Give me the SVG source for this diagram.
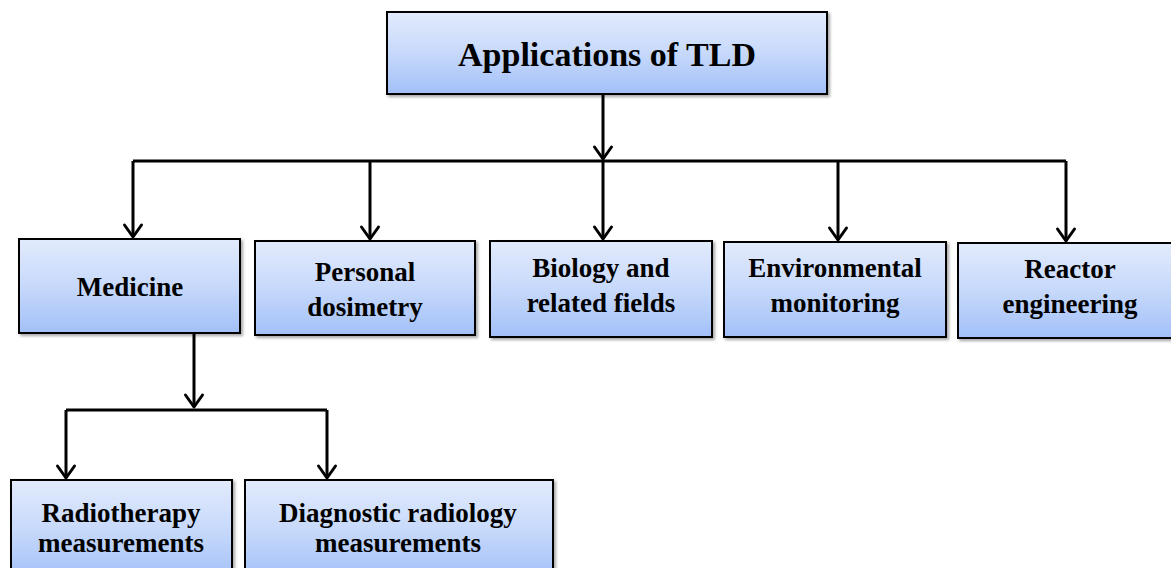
<svg xmlns="http://www.w3.org/2000/svg" width="1171" height="568" viewBox="0 0 1171 568">
<defs>
<linearGradient id="g" x1="0" y1="0" x2="0" y2="1">
<stop offset="0" stop-color="#e2ebfc"/>
<stop offset="0.5" stop-color="#c7d9fb"/>
<stop offset="1" stop-color="#a2c0f8"/>
</linearGradient>
<filter id="sh" x="-5%" y="-5%" width="115%" height="125%">
<feDropShadow dx="2" dy="2" stdDeviation="1.5" flood-color="#000" flood-opacity="0.35"/>
</filter>
<marker id="ar" markerUnits="userSpaceOnUse" markerWidth="24" markerHeight="24" refX="16" refY="12" orient="auto" viewBox="0 0 24 24">
<path d="M4,3.5 L16,12 L4,20.5" fill="none" stroke="#000" stroke-width="3" stroke-linecap="round" stroke-linejoin="round"/>
</marker>
</defs>
<style>
.box{fill:url(#g);stroke:#000;stroke-width:2;filter:url(#sh)}
.t{font-family:"Liberation Serif","Times New Roman",serif;font-weight:bold;text-anchor:middle;fill:#000;font-size:27px}
.title{font-size:34px}
.c{fill:none;stroke:#000;stroke-width:3}
</style>
<g id="connectors">
<path class="c" d="M603,94 V159" marker-end="url(#ar)"/>
<path class="c" d="M133,161 H1066"/>
<path class="c" d="M133,161 V237" marker-end="url(#ar)"/>
<path class="c" d="M370,161 V239" marker-end="url(#ar)"/>
<path class="c" d="M603,161 V239" marker-end="url(#ar)"/>
<path class="c" d="M838,161 V240" marker-end="url(#ar)"/>
<path class="c" d="M1066,161 V241" marker-end="url(#ar)"/>
<path class="c" d="M194,333 V407" marker-end="url(#ar)"/>
<path class="c" d="M66,410 H327"/>
<path class="c" d="M66,410 V478" marker-end="url(#ar)"/>
<path class="c" d="M327,410 V478" marker-end="url(#ar)"/>
</g>
<g id="root">
<rect class="box" x="387" y="12" width="440" height="82"/>
<text class="t title" x="607" y="66">Applications of TLD</text>
</g>
<g id="medicine">
<rect class="box" x="19" y="239" width="221" height="94"/>
<text class="t" x="130" y="296">Medicine</text>
</g>
<g id="personal">
<rect class="box" x="255" y="241" width="220" height="94"/>
<text class="t" x="365" y="281">Personal</text>
<text class="t" x="365" y="316">dosimetry</text>
</g>
<g id="biology">
<rect class="box" x="490" y="241" width="222" height="96"/>
<text class="t" x="601" y="277">Biology and</text>
<text class="t" x="601" y="312">related fields</text>
</g>
<g id="environmental">
<rect class="box" x="724" y="242" width="222" height="95"/>
<text class="t" x="835" y="277">Environmental</text>
<text class="t" x="835" y="312">monitoring</text>
</g>
<g id="reactor">
<rect class="box" x="958" y="243" width="216" height="95"/>
<text class="t" x="1070" y="278">Reactor</text>
<text class="t" x="1070" y="313">engineering</text>
</g>
<g id="radiotherapy">
<rect class="box" x="11" y="480" width="221" height="100"/>
<text class="t" x="121" y="522">Radiotherapy</text>
<text class="t" x="121" y="552">measurements</text>
</g>
<g id="diagnostic">
<rect class="box" x="245" y="480" width="308" height="100"/>
<text class="t" x="398" y="522">Diagnostic radiology</text>
<text class="t" x="398" y="552">measurements</text>
</g>
</svg>
